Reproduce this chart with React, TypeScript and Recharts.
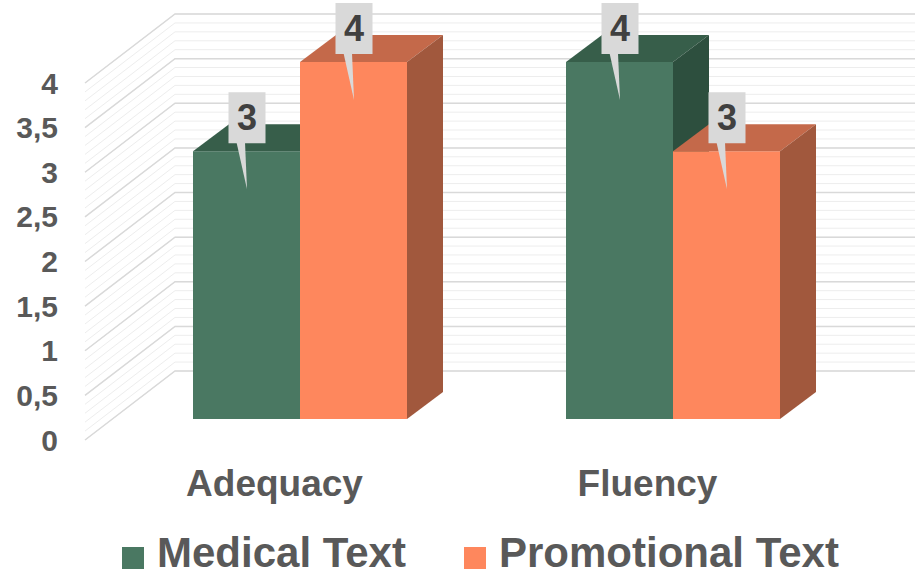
import { Bar, BarChart, CartesianGrid, LabelList, Legend, XAxis, YAxis } from "recharts"

const categories = ["Adequacy", "Fluency"]
const medicalText = [3, 4]
const promotionalText = [4, 3]
const yTicks = [0, 0.5, 1, 1.5, 2, 2.5, 3, 3.5, 4]
// minor gridlines every 0.1
const yMinorTicks = Array.from({ length: 41 }, (_, i) => i / 10)

const data = categories.map((category, i) => ({
  category,
  medical: medicalText[i],
  promotional: promotionalText[i],
}))

const FONT = '"Liberation Sans", Arial, sans-serif'
const TEXT = "#595959"

// pseudo-3D offsets: bar depth, back wall and front edge relative to the bar plane
const BAR_DX = 36
const BAR_DY = -27
const BACK_DX = 62
const BACK_DY = -48
const FRONT_DX = -28
const FRONT_DY = 21

const palettes = {
  medical: { front: "#4A7862", top: "#375E4A", side: "#2D4F3E" },
  promotional: { front: "#FE875D", top: "#C4694A", side: "#A1583D" },
}

type Palette = { front: string; top: string; side: string }

function Box3D(props: any) {
  const { x, y, width, height } = props
  const palette: Palette = props.palette
  const r = x + width
  const b = y + height
  return (
    <g>
      <rect x={x} y={y} width={width} height={height} fill={palette.front} />
      <polygon
        points={`${x},${y} ${r},${y} ${r + BAR_DX},${y + BAR_DY} ${x + BAR_DX},${y + BAR_DY}`}
        fill={palette.top}
      />
      <polygon
        points={`${r},${y} ${r + BAR_DX},${y + BAR_DY} ${r + BAR_DX},${b + BAR_DY} ${r},${b}`}
        fill={palette.side}
      />
    </g>
  )
}

// one gridline running across the side wall and the back wall
function wallLine(props: any) {
  const { x1, y1, x2, stroke, strokeWidth, index } = props
  const points = [
    [x1 + FRONT_DX, y1 + FRONT_DY],
    [x1 + BACK_DX, y1 + BACK_DY],
    [x2 + 60, y1 + BACK_DY],
  ]
    .map((p) => p.join(","))
    .join(" ")
  return <polyline key={`wall-${index}-${y1}`} points={points} fill="none" stroke={stroke} strokeWidth={strokeWidth} />
}

function Callout(props: any) {
  const { x, y, width, value } = props
  const cx = x + width / 2
  return (
    <g>
      <polygon points={`${cx - 10},${y - 9} ${cx - 1.5},${y - 9} ${cx + 0.5},${y + 38}`} fill="#D9D9D9" />
      <rect x={cx - 18} y={y - 59} width={37} height={51} fill="#D9D9D9" />
      <text
        x={cx + 0.5}
        y={y - 33.5}
        textAnchor="middle"
        dominantBaseline="central"
        fontFamily={FONT}
        fontSize={36}
        fontWeight={700}
        fill="#404040"
      >
        {value}
      </text>
    </g>
  )
}

function YTick({ y, payload }: any) {
  return (
    <text
      x={58}
      y={y + FRONT_DY}
      textAnchor="end"
      dominantBaseline="central"
      fontFamily={FONT}
      fontSize={30}
      fontWeight={700}
      fill={TEXT}
    >
      {String(payload.value).replace(".", ",")}
    </text>
  )
}

function XTick({ x, y, payload }: any) {
  return (
    <text
      x={x - 25}
      y={y + 64}
      textAnchor="middle"
      dominantBaseline="central"
      fontFamily={FONT}
      fontSize={37}
      fontWeight={700}
      fill={TEXT}
    >
      {payload.value}
    </text>
  )
}

function LegendContent({ payload }: any) {
  return (
    <div style={{ display: "flex", paddingLeft: 122, fontFamily: FONT }}>
      {(payload || []).map((entry: any, i: number) => (
        <div key={i} style={{ display: "flex", alignItems: "center", marginRight: 58 }}>
          <div
            style={{
              width: 22,
              height: 22,
              background: entry.color,
              marginRight: 13,
              position: "relative",
              top: 5,
            }}
          />
          <span style={{ fontSize: 42, fontWeight: 700, lineHeight: 1, color: TEXT }}>{entry.value}</span>
        </div>
      ))}
    </div>
  )
}

export default function App() {
  return (
    <div style={{ position: "absolute", left: 0, top: 0, width: 915, height: 578, background: "#fff" }}>
      <BarChart
        width={915}
        height={578}
        data={data}
        margin={{ top: 62, right: 56, bottom: 0, left: 53 }}
        barGap={0}
      >
        <CartesianGrid
          vertical={false}
          horizontalValues={yMinorTicks}
          stroke="#EDEDED"
          strokeWidth={1}
          horizontal={wallLine}
        />
        <CartesianGrid vertical={false} stroke="#D9D9D9" strokeWidth={1.5} horizontal={wallLine} />
        <XAxis
          dataKey="category"
          height={159}
          axisLine={false}
          tickLine={false}
          tickSize={0}
          tickMargin={0}
          tick={<XTick />}
          interval={0}
        />
        <YAxis
          width={60}
          domain={[0, 4]}
          ticks={yTicks}
          interval={0}
          axisLine={false}
          tickLine={false}
          tick={<YTick />}
        />
        <Legend
          layout="horizontal"
          verticalAlign="middle"
          align="center"
          wrapperStyle={{ top: 532, left: 0, width: 915 }}
          content={<LegendContent />}
        />
        <Bar
          dataKey="medical"
          name="Medical Text"
          fill={palettes.medical.front}
          barSize={107}
          isAnimationActive={false}
          shape={(p: any) => <Box3D {...p} palette={palettes.medical} />}
        >
          <LabelList dataKey="medical" content={<Callout />} />
        </Bar>
        <Bar
          dataKey="promotional"
          name="Promotional Text"
          fill={palettes.promotional.front}
          barSize={107}
          isAnimationActive={false}
          shape={(p: any) => <Box3D {...p} palette={palettes.promotional} />}
        >
          <LabelList dataKey="promotional" content={<Callout />} />
        </Bar>
      </BarChart>
    </div>
  )
}
